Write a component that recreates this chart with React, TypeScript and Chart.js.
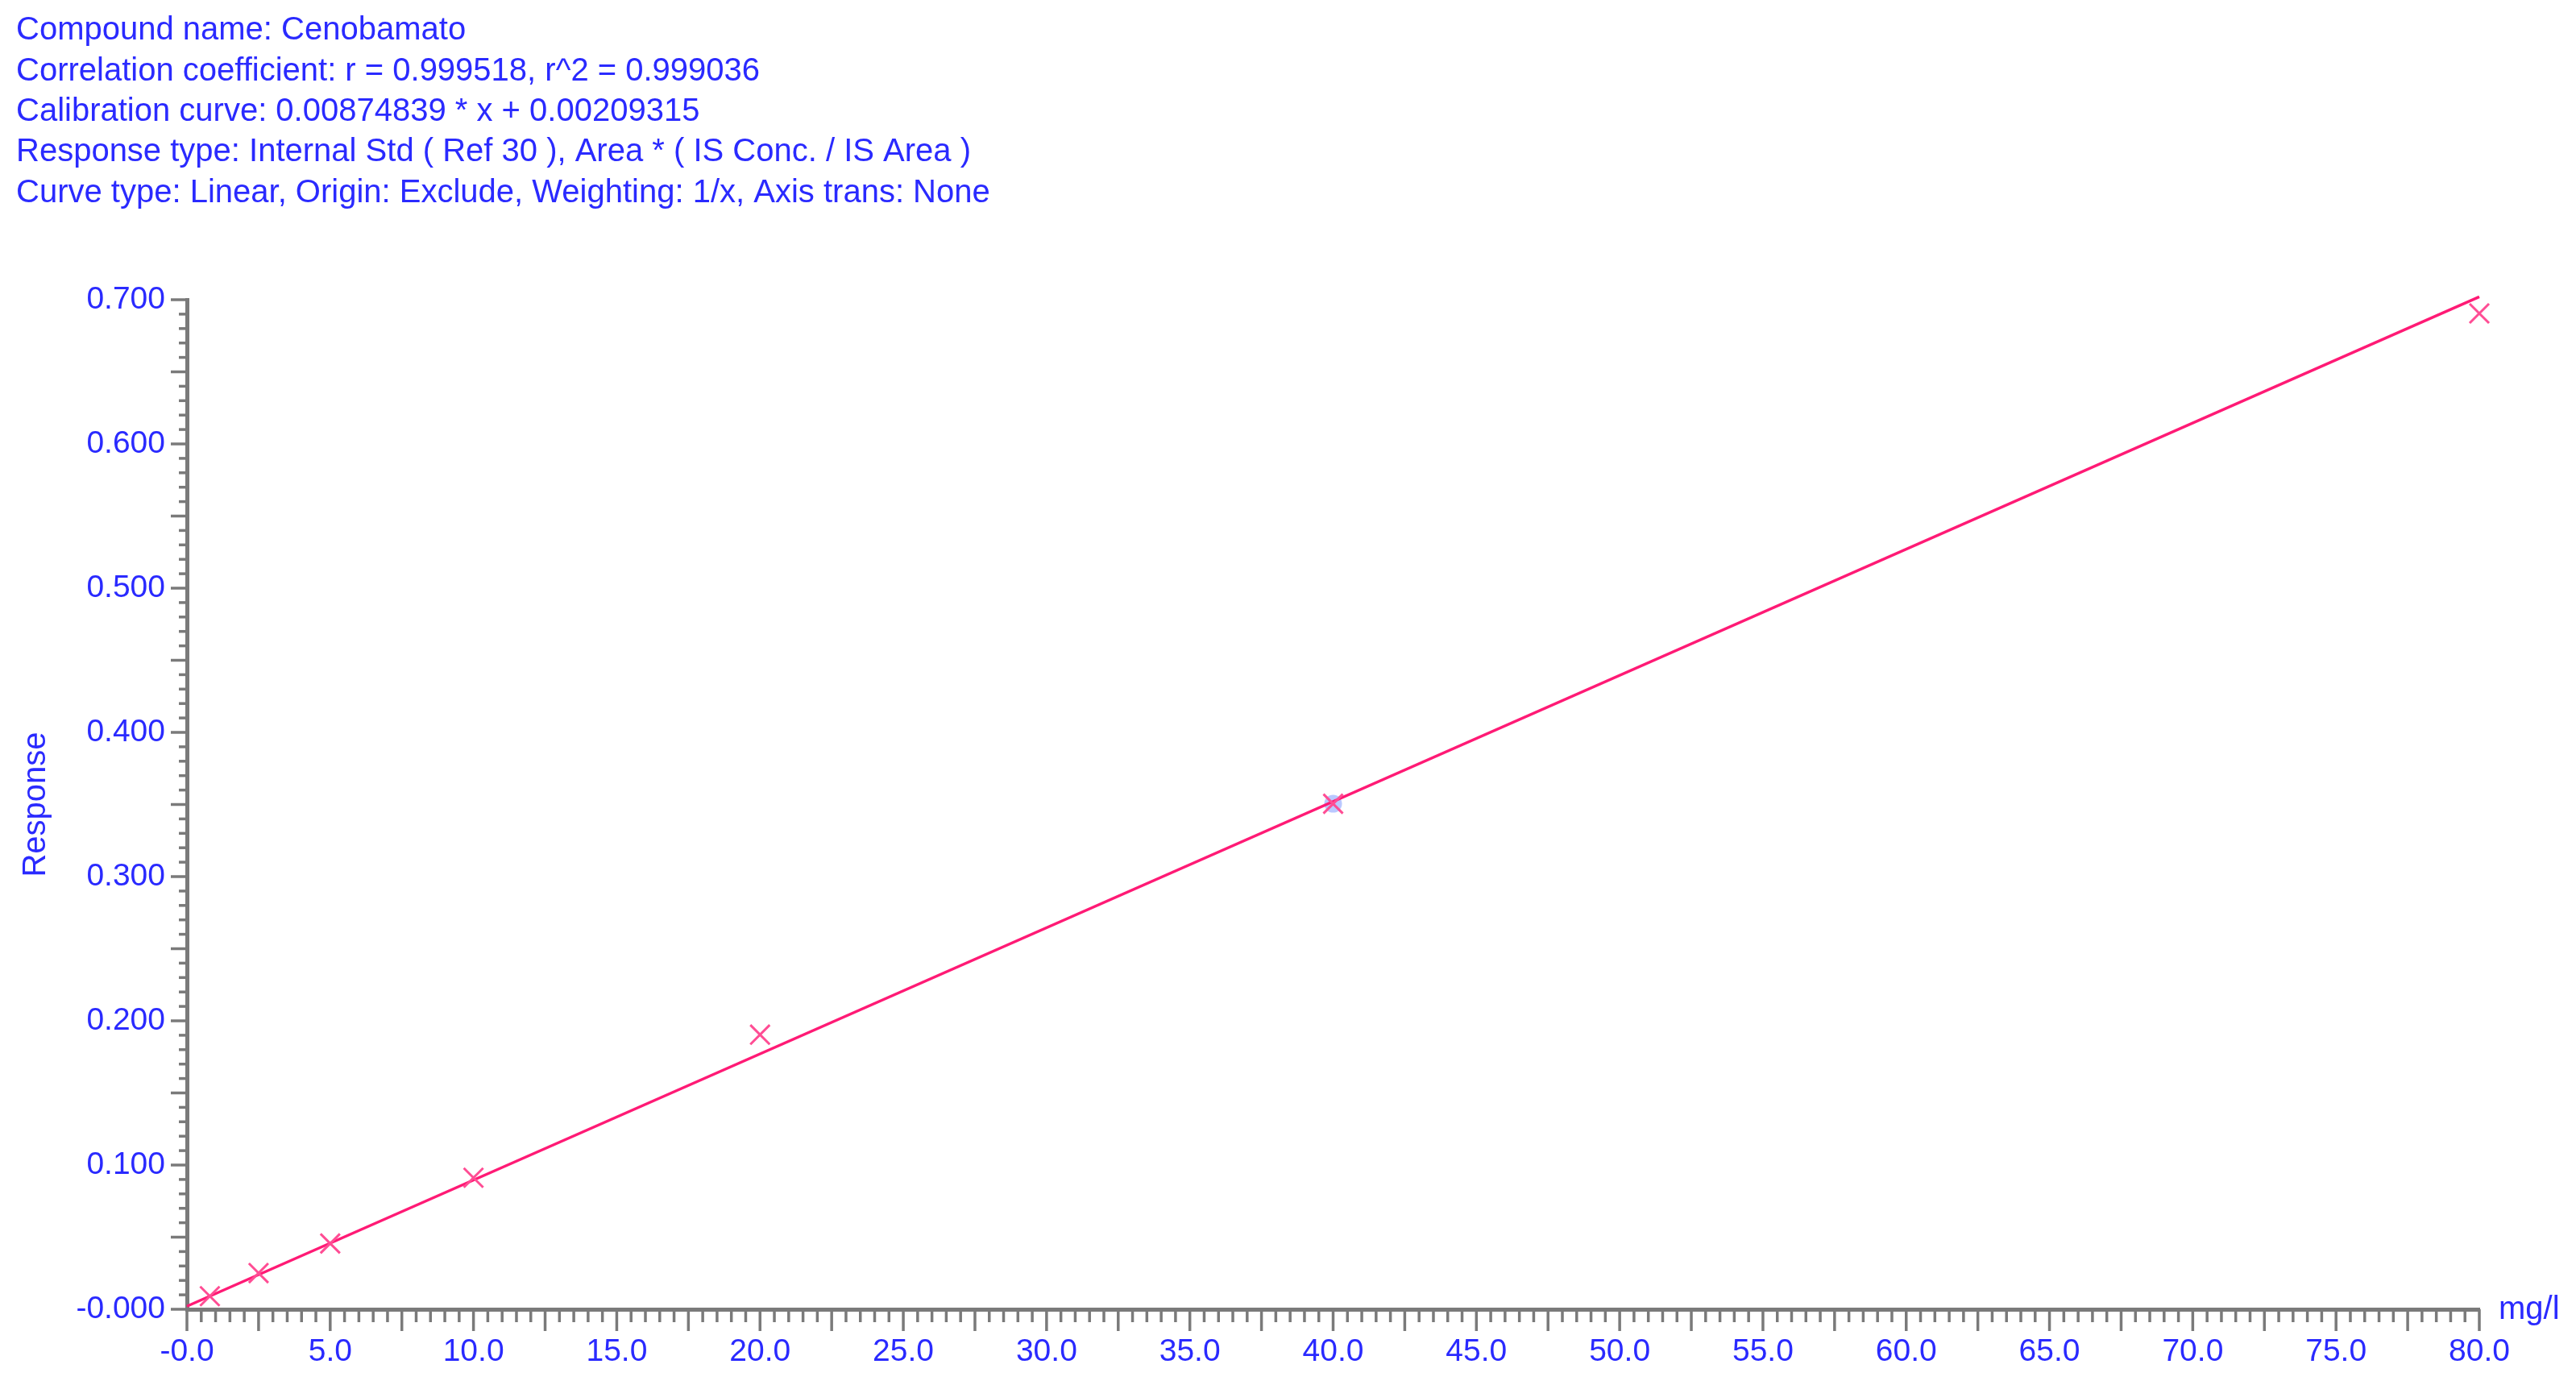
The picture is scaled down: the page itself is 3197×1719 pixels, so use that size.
import React, { useEffect, useRef } from "react";
import { Chart, registerables } from "chart.js";

Chart.register(...registerables);

// ---- data ----
const HEADER_LINES = [
  "Compound name: Cenobamato",
  "Correlation coefficient: r = 0.999518, r^2 = 0.999036",
  "Calibration curve: 0.00874839 * x + 0.00209315",
  "Response type: Internal Std ( Ref 30 ), Area * ( IS Conc. / IS Area )",
  "Curve type: Linear, Origin: Exclude, Weighting: 1/x, Axis trans: None",
];
const CAL_X = [0.8, 2.5, 5, 10, 20, 40, 80];
const CAL_Y = [0.0091, 0.0251, 0.0456, 0.0912, 0.1904, 0.3505, 0.6905];
const FIT_X = [0, 80];
const FIT_Y = [0.0021, 0.702];
const SELECTED_X = [40];
const SELECTED_Y = [0.3505];
const X_TICK_LABELS = ["-0.0", "5.0", "10.0", "15.0", "20.0", "25.0", "30.0", "35.0", "40.0", "45.0", "50.0", "55.0", "60.0", "65.0", "70.0", "75.0", "80.0"];
const Y_TICK_LABELS = ["-0.000", "0.100", "0.200", "0.300", "0.400", "0.500", "0.600", "0.700"];
const X_UNIT = "mg/l";
const Y_TITLE = "Response";
const X_MIN = 0, X_MAX = 80, X_LABEL_STEP = 5, X_MINOR_STEP = 0.5, X_MAJOR_EVERY = 5;
const Y_MIN = 0, Y_MAX = 0.7, Y_LABEL_STEP = 0.1, Y_MINOR_STEP = 0.01, Y_MAJOR_EVERY = 5;

const BLUE = "#2a2aff";
const AXIS = "#7a7a7a";
const FONT = "'Liberation Sans', Arial, sans-serif";

const minorTicksPlugin = {
  id: "minorTicks",
  afterDraw(chart: any) {
    const ctx = chart.ctx;
    const xs = chart.scales.x;
    const ys = chart.scales.y;
    const area = chart.chartArea;
    ctx.save();
    ctx.strokeStyle = AXIS;
    ctx.lineWidth = 3.5;
    const nx = Math.round((X_MAX - X_MIN) / X_MINOR_STEP);
    for (let i = 0; i <= nx; i++) {
      const px = xs.getPixelForValue(X_MIN + i * X_MINOR_STEP);
      const len = i % X_MAJOR_EVERY === 0 ? 27 : 16;
      ctx.beginPath();
      ctx.moveTo(px, area.bottom);
      ctx.lineTo(px, area.bottom + len);
      ctx.stroke();
    }
    const ny = Math.round((Y_MAX - Y_MIN) / Y_MINOR_STEP);
    for (let i = 0; i <= ny; i++) {
      const py = ys.getPixelForValue(Y_MIN + i * Y_MINOR_STEP);
      const len = i % Y_MAJOR_EVERY === 0 ? 20 : 10;
      ctx.beginPath();
      ctx.moveTo(area.left, py);
      ctx.lineTo(area.left - len, py);
      ctx.stroke();
    }
    // unit label
    ctx.fillStyle = BLUE;
    ctx.font = `40px ${FONT}`;
    ctx.textAlign = "left";
    ctx.textBaseline = "alphabetic";
    ctx.fillText(X_UNIT, xs.getPixelForValue(X_MAX) + 24, area.bottom + 12);
    ctx.restore();
  },
};

export default function App() {
  const ref = useRef<HTMLCanvasElement | null>(null);
  useEffect(() => {
    if (!ref.current) return;
    const chart = new Chart(ref.current, {
      type: "scatter",
      data: {
        datasets: [
          {
            label: "Calibration",
            data: CAL_X.map((x, i) => ({ x, y: CAL_Y[i] })),
            pointStyle: "crossRot",
            pointRadius: 17,
            pointBorderWidth: 3,
            pointBorderColor: "#ff4d94",
            pointBackgroundColor: "#ff4d94",
            showLine: false,
            clip: false,
            order: 0,
          } as any,
          {
            label: "Fit",
            data: FIT_X.map((x, i) => ({ x, y: FIT_Y[i] })),
            showLine: true,
            borderColor: "#ff1a75",
            borderWidth: 3.5,
            pointRadius: 0,
            clip: false,
            order: 1,
          } as any,
          {
            label: "Selected",
            data: SELECTED_X.map((x, i) => ({ x, y: SELECTED_Y[i] })),
            pointRadius: 11,
            pointBorderWidth: 0,
            pointBackgroundColor: "rgba(130,155,255,0.55)",
            showLine: false,
            order: 2,
          } as any,
        ],
      },
      options: {
        responsive: false,
        animation: false,
        devicePixelRatio: 1,
        layout: { padding: { top: 0, left: 20, right: 120, bottom: 0 } },
        plugins: {
          legend: { display: false },
          tooltip: { enabled: false },
          title: {
            display: true,
            text: HEADER_LINES,
            align: "start",
            color: BLUE,
            font: { family: FONT, size: 40, lineHeight: 1.26, weight: "normal" },
            padding: { top: 13, bottom: 107 },
          },
        },
        scales: {
          x: {
            type: "linear",
            min: X_MIN,
            max: X_MAX,
            grid: { display: false, drawTicks: false },
            border: { display: true, color: AXIS, width: 5 },
            ticks: {
              stepSize: X_LABEL_STEP,
              autoSkip: false,
              maxRotation: 0,
              padding: 30,
              color: BLUE,
              font: { family: FONT, size: 39 },
              callback: (_v: any, i: number) => X_TICK_LABELS[i],
            },
            afterFit: (s: any) => { s.height = 1719 - 1625; },
          },
          y: {
            type: "linear",
            min: Y_MIN,
            max: Y_MAX,
            grid: { display: false, drawTicks: false },
            border: { display: true, color: AXIS, width: 5 },
            title: {
              display: true,
              text: Y_TITLE,
              color: BLUE,
              font: { family: FONT, size: 40, lineHeight: 1.2 },
              padding: { top: 1, bottom: 0 },
            },
            ticks: {
              stepSize: Y_LABEL_STEP,
              autoSkip: false,
              padding: 27,
              color: BLUE,
              font: { family: FONT, size: 39 },
              callback: (_v: any, i: number) => Y_TICK_LABELS[i],
            },
            afterFit: (s: any) => { s.width = 232 - 20; },
          },
        },
      },
      plugins: [minorTicksPlugin],
    } as any);
    return () => chart.destroy();
  }, []);
  return (
    <div style={{ position: "fixed", left: 0, top: 0, width: 3197, height: 1719, background: "#fff" }}>
      <canvas ref={ref} width={3197} height={1719} style={{ display: "block" }} />
    </div>
  );
}
